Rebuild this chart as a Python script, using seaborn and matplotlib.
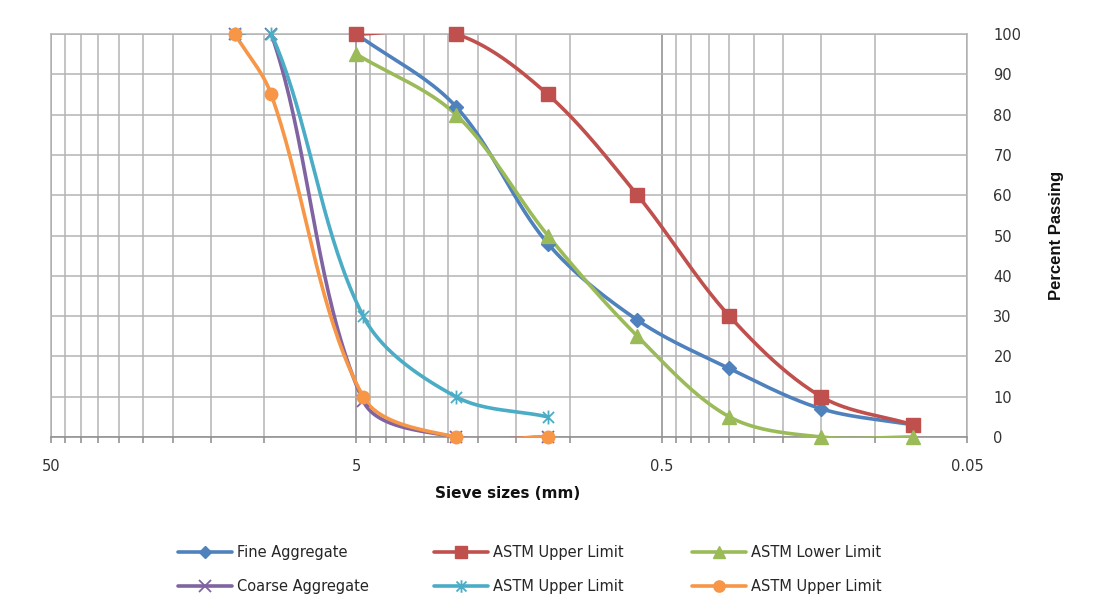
import numpy as np
import pandas as pd
import matplotlib
matplotlib.use("Agg")
import matplotlib.pyplot as plt
from matplotlib.lines import Line2D
from matplotlib.path import Path
import seaborn as sns

# Sieve openings (mm) and percent passing for each gradation series
fine_sizes = [5.0, 2.36, 1.18, 0.6, 0.3, 0.15, 0.075]
fine_agg = [100, 82, 48, 29, 17, 7, 3]
fine_upper = [100, 100, 85, 60, 30, 10, 3]
fine_lower = [95, 80, 50, 25, 5, 0, 0]

coarse_sizes = [12.5, 9.5, 4.75, 2.36, 1.18]
coarse_agg = [100, 100, 9, 0, 0]
coarse_upper_a = [100, 100, 30, 10, 5]
coarse_upper_b = [100, 85, 10, 0, 0]

labels = ["Fine Aggregate", "ASTM Upper Limit", "ASTM Lower Limit",
          "Coarse Aggregate", "ASTM Upper Limit", "ASTM Upper Limit"]

x_major = [50, 5, 0.5, 0.05]
x_major_labels = ["50", "5", "0.5", "0.05"]
y_ticks = list(range(0, 101, 10))

colors = ["#4F81BD", "#C0504D", "#9BBB59", "#8064A2", "#4BACC6", "#F79646"]

# asterisk-style marker: an X with a vertical stroke
star_path = Path([(0, -1), (0, 1), (-0.8, -0.8), (0.8, 0.8), (-0.8, 0.8), (0.8, -0.8)],
                 [Path.MOVETO, Path.LINETO] * 3)
markers = [dict(marker="D", ms=7),
           dict(marker="s", ms=10),
           dict(marker="^", ms=10),
           dict(marker="x", ms=9, mew=1.3),
           dict(marker=star_path, ms=10, mew=1.3),
           dict(marker="o", ms=9)]


def smooth_curve(ax, xs, ys, n=40):
    """Bezier smoothing computed in display space, with tangents weighted
    by the neighbouring chord lengths so short segments don't overshoot."""
    pts = ax.transData.transform(np.column_stack([xs, ys]))
    parts = []
    for i in range(len(pts) - 1):
        p0 = pts[i - 1] if i > 0 else pts[i]
        p1, p2 = pts[i], pts[i + 1]
        p3 = pts[i + 2] if i + 2 < len(pts) else pts[i + 1]
        d01 = np.hypot(*(p1 - p0))
        d12 = np.hypot(*(p2 - p1))
        d23 = np.hypot(*(p3 - p2))
        f1 = d12 / (d01 + d12) / 3.0 if d01 + d12 > 0 else 0
        f2 = d12 / (d12 + d23) / 3.0 if d12 + d23 > 0 else 0
        c1 = p1 + (p2 - p0) * f1
        c2 = p2 - (p3 - p1) * f2
        t = np.linspace(0, 1, n)[:, None]
        seg = ((1 - t) ** 3) * p1 + 3 * ((1 - t) ** 2) * t * c1 \
            + 3 * (1 - t) * t ** 2 * c2 + t ** 3 * p2
        parts.append(seg if i == 0 else seg[1:])
    arr = ax.transData.inverted().transform(np.vstack(parts))
    return arr[:, 0], arr[:, 1]


series = [(fine_sizes, fine_agg), (fine_sizes, fine_upper), (fine_sizes, fine_lower),
          (coarse_sizes, coarse_agg), (coarse_sizes, coarse_upper_a), (coarse_sizes, coarse_upper_b)]

sns.set_style("white")
plt.rcParams["font.family"] = ["DejaVu Sans"]

fig = plt.figure(figsize=(11.02, 6.12), dpi=100)
ax = fig.add_axes([51 / 1102, 175 / 612, 916 / 1102, 403 / 612])
ax.set_xscale("log")
ax.set_xlim(50, 0.05)
ax.set_ylim(0, 100)

grid_minor = "#B4B4B4"
grid_major = "#8C8C8C"

for (xs, ys), col, mk in zip(series, colors, markers):
    sx, sy = smooth_curve(ax, xs, ys)
    df = pd.DataFrame({"size": sx, "passing": sy})
    sns.lineplot(data=df, x="size", y="passing", sort=False, estimator=None,
                 color=col, lw=2.6, ax=ax, zorder=3)
    ax.plot(xs, ys, linestyle="none", color=col, mec=col, mfc=col,
            clip_on=False, zorder=4, **mk)

ax.set_xlim(50, 0.05)
ax.set_ylim(0, 100)

minor_ticks = []
for dec in [10, 1, 0.1]:
    minor_ticks += [dec * k for k in [1, 1.5, 2, 2.5, 3, 3.5, 4, 4.5]]
ax.set_xticks(x_major)
ax.set_xticklabels(x_major_labels)
ax.set_xticks(minor_ticks, minor=True)
ax.xaxis.set_minor_formatter(matplotlib.ticker.NullFormatter())
ax.grid(True, which="minor", axis="x", color=grid_minor, lw=1.1, zorder=0)
ax.grid(True, which="major", axis="x", color=grid_major, lw=1.1, zorder=0)
ax.set_yticks(y_ticks)
ax.grid(True, which="major", axis="y", color=grid_minor, lw=1.1, zorder=0)
ax.set_axisbelow(True)

ax.yaxis.tick_right()
ax.tick_params(axis="y", which="both", length=0, pad=19, labelsize=10.5, labelcolor="#333333")
ax.tick_params(axis="x", which="both", direction="out", length=4, width=1.1,
               color=grid_major, bottom=True, pad=12, labelsize=10.5, labelcolor="#333333")
for side in ["left", "right", "top", "bottom"]:
    ax.spines[side].set_color(grid_minor)
    ax.spines[side].set_linewidth(1.1)
ax.spines["bottom"].set_color(grid_major)
ax.set_xlabel("")
ax.set_ylabel("")

fig.text(508 / 1102, 1 - 494 / 612, "Sieve sizes (mm)", ha="center", va="center",
         fontsize=11, fontweight="bold", color="#111111")
fig.text(1057 / 1102, 1 - 235 / 612, "Percent Passing", rotation=90, ha="center",
         va="center", fontsize=12, fontweight="bold", color="#111111",
         family=["Liberation Sans", "DejaVu Sans"])

# legend: three columns of two entries each
handles = []
for col, mk in zip(colors, markers):
    kw = dict(mk)
    kw["ms"] = kw["ms"] * 0.9
    handles.append(Line2D([0], [0], color=col, lw=2.6, mec=col, mfc=col, **kw))

col_x = [178, 434, 692]
for c in range(3):
    idx = [c, c + 3]
    fig.legend([handles[i] for i in idx], [labels[i] for i in idx],
               loc="center left", bbox_to_anchor=(col_x[c] / 1102, 1 - 569.5 / 612),
               frameon=False, fontsize=10.5, handlelength=3.7, handletextpad=0.35,
               labelspacing=1.35, borderpad=0, borderaxespad=0)

fig.savefig("out.png", dpi=100, facecolor="white")
